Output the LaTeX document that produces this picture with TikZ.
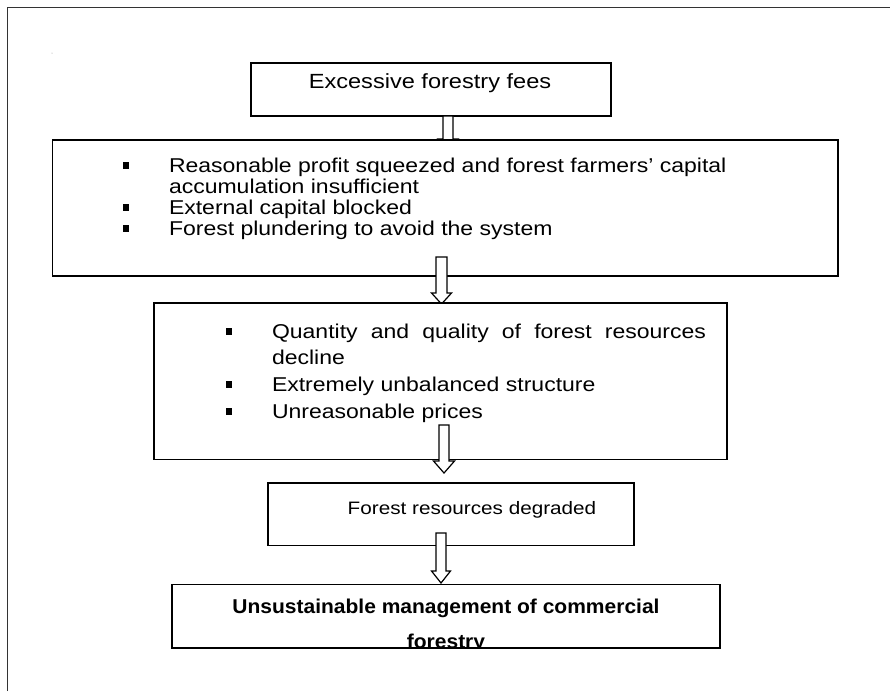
\documentclass[tikz,border=0pt]{standalone}
\usepackage{fontspec}
\setmainfont{Liberation Sans}[FakeStretch=1.15]
\newfontfamily\boldfam{Liberation Sans}[FakeStretch=1.05]
\usetikzlibrary{calc}

% hollow block arrow from a start point down to a tip point
% #1 start, #2 tip, #3 head length, #4 stem half-width, #5 head half-width
\newcommand\blkarrow[5]{%
  \draw[blockarrow] let \p1=(#1), \p2=(#2) in
    (\x2-#4pt,\y1) -- (\x2-#4pt,\y2+#3pt) -- (\x2-#5pt,\y2+#3pt) -- (\x2,\y2)
    -- (\x2+#5pt,\y2+#3pt) -- (\x2+#4pt,\y2+#3pt) -- (\x2+#4pt,\y1) -- cycle;}

\begin{document}
\begin{tikzpicture}[x=1pt,y=-1pt,
  box/.style={draw=black, fill=white, line width=1.6pt, inner sep=0pt, outer sep=0pt},
  blockarrow/.style={draw=black, fill=white, line width=1.2pt, line join=miter},
  txt/.style={inner sep=0pt, outer sep=0pt, font=\fontsize{20}{22}\selectfont},
  bigtxt/.style={inner sep=0pt, outer sep=0pt, font=\fontsize{20.5}{22}\selectfont},
  smalltxt/.style={inner sep=0pt, outer sep=0pt, font=\fontsize{18}{20}\selectfont},
  boldtxt/.style={inner sep=0pt, outer sep=0pt, font=\boldfam\fontsize{20}{22}\selectfont\bfseries},
  bullet/.style={fill=black, inner sep=0pt, minimum width=6.5pt, minimum height=7pt}]
\useasboundingbox (0,0) rectangle (890,691);
\fill[white] (0,0) rectangle (890,691);

% outer frame (left and top edges only)
\draw[line width=1pt, black!80] (7,691) -- (7,7) -- (890,7);
\fill[black!40] (52,53) circle (0.5);

% box 1
\node[box, minimum width=360pt, minimum height=53pt] (b1) at (431,89.5) {};
\node[bigtxt, anchor=base] (t1) at (430,88) {Excessive forestry fees};

\coordinate (a1s) at (448,116);
\coordinate (a1e) at (448,150);
\blkarrow{a1s}{a1e}{11}{5}{10}

% box 2
\node[box, minimum width=785.5pt, minimum height=136pt] (b2) at (445.25,208) {};
\node[bullet] (p21) at (126,165) {};
\node[bullet] (p22) at (126,207.6) {};
\node[bullet] (p23) at (126,228.9) {};
\node[txt, anchor=base west] (t21) at (169,172) {Reasonable profit squeezed and forest farmers’ capital};
\node[txt, anchor=base west] (t22) at (169,193.3) {accumulation insufficient};
\node[txt, anchor=base west] (t23) at (169,214.6) {External capital blocked};
\node[txt, anchor=base west] (t24) at (169,235.9) {Forest plundering to avoid the system};

\coordinate (a2s) at (441.5,257);
\coordinate (a2e) at (441.5,304);
\blkarrow{a2s}{a2e}{11}{5.5}{10}

% box 3
\node[box, minimum width=573pt, minimum height=156.5pt] (b3) at (440.5,381.25) {};
\node[bullet] (p31) at (229,331) {};
\node[bullet] (p32) at (229,384.5) {};
\node[bullet] (p33) at (229,411.5) {};
\node[txt, anchor=base west] (t31) at (272,338) {\makebox[434pt][s]{Quantity and quality of forest resources}};
\node[txt, anchor=base west] (t32) at (272,364.5) {decline};
\node[txt, anchor=base west] (t33) at (272,391.5) {Extremely unbalanced structure};
\node[txt, anchor=base west] (t34) at (272,418.5) {Unreasonable prices};

\coordinate (a3s) at (444,425);
\coordinate (a3e) at (444,473);
\blkarrow{a3s}{a3e}{12}{5}{10.5}

% box 4
\node[box, minimum width=366pt, minimum height=62.5pt] (b4) at (451,514.25) {};
\node[smalltxt, anchor=base] (t4) at (472,514) {Forest resources degraded};

\coordinate (a4s) at (441,533);
\coordinate (a4e) at (441,583);
\blkarrow{a4s}{a4e}{12}{5}{9.5}

% box 5, text cut off at the lower border
\node[box, minimum width=548pt, minimum height=63.5pt] (b5) at (446,616.25) {};
\begin{scope}
  \clip (b5.north west) rectangle (b5.south east);
  \node[boldtxt, anchor=base] (t51) at (446,613) {Unsustainable management of commercial};
  \node[boldtxt, anchor=base] (t52) at (446,648) {forestry};
\end{scope}
\draw[line width=1.6pt] (b5.south west) -- (b5.south east);
\end{tikzpicture}
\end{document}
